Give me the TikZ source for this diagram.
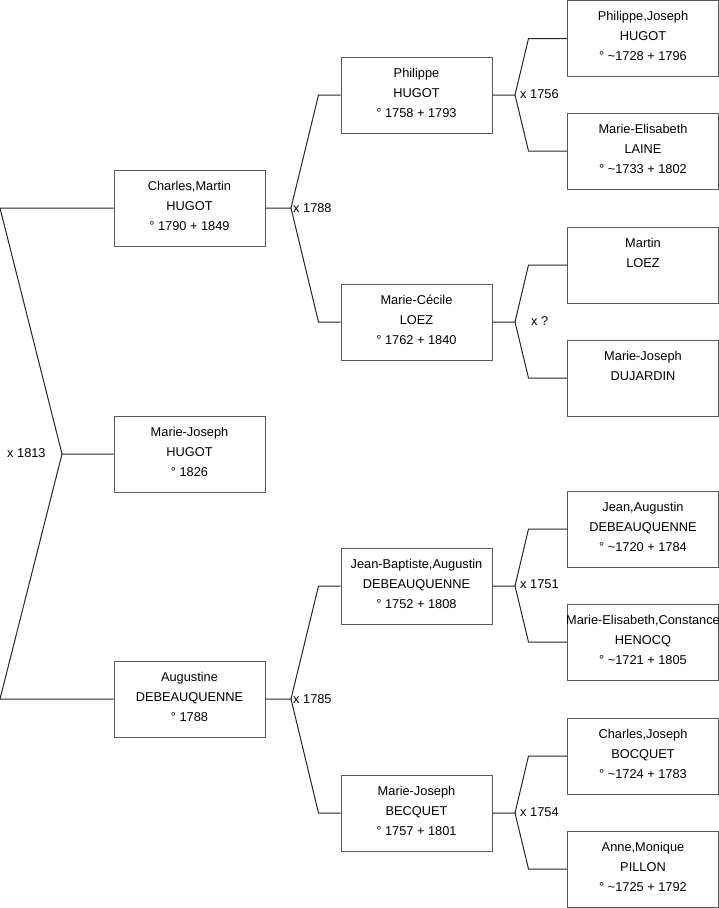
\documentclass[tikz,border=0pt]{standalone}
\usepackage{fontspec}
\setmainfont{Liberation Sans}
\usetikzlibrary{calc}
\tikzset{
  pbox/.style={draw=black!65, line width=1pt, minimum width=151pt, minimum height=76pt, inner sep=0pt, fill=white},
  ptext/.style={anchor=north, inner sep=0pt, yshift=-6.5pt, align=center, font=\fontsize{12.8pt}{20pt}\selectfont},
  conn/.style={draw=black!85, line width=1pt},
  mlabel/.style={inner sep=0pt, font=\fontsize{12.8pt}{15pt}\selectfont}
}
\newcommand{\pbox}[4]{\node[pbox] (#1) at (#2,#3) {}; \node[ptext] (#1t) at (#1.north) {\strut #4};}
\begin{document}
\begin{tikzpicture}[x=1pt,y=-1pt]
\useasboundingbox (0,0) rectangle (719,908);
% level 1
\pbox{c1}{189.5}{208}{Charles,Martin\\HUGOT\\° 1790 + 1849}
\pbox{mj}{189.5}{454}{Marie-Joseph\\HUGOT\\° 1826}
\pbox{a1}{189.5}{699}{Augustine\\DEBEAUQUENNE\\° 1788}
% level 2
\pbox{p2}{416.5}{95}{Philippe\\HUGOT\\° 1758 + 1793}
\pbox{mc}{416.5}{322}{Marie-Cécile\\LOEZ\\° 1762 + 1840}
\pbox{jb}{416.5}{586}{Jean-Baptiste,Augustin\\DEBEAUQUENNE\\° 1752 + 1808}
\pbox{mb}{416.5}{813}{Marie-Joseph\\BECQUET\\° 1757 + 1801}
% level 3
\pbox{pj}{643}{38.5}{Philippe,Joseph\\HUGOT\\° \textasciitilde1728 + 1796}
\pbox{ml}{643}{151}{Marie-Elisabeth\\LAINE\\° \textasciitilde1733 + 1802}
\pbox{mt}{643}{265}{Martin\\LOEZ}
\pbox{md}{643}{378}{Marie-Joseph\\DUJARDIN}
\pbox{ja}{643}{529}{Jean,Augustin\\DEBEAUQUENNE\\° \textasciitilde1720 + 1784}
\pbox{me}{643}{642}{Marie-Elisabeth,Constance\\HENOCQ\\° \textasciitilde1721 + 1805}
\pbox{cj}{643}{756}{Charles,Joseph\\BOCQUET\\° \textasciitilde1724 + 1783}
\pbox{am}{643}{869}{Anne,Monique\\PILLON\\° \textasciitilde1725 + 1792}
% vertices
\coordinate (v0) at (62,454);
\coordinate (v0a) at (0,208);
\coordinate (v0b) at (0,699);
\coordinate (v1) at (291,208);
\coordinate (v2) at (291,699);
\coordinate (v3) at (515,95);
\coordinate (v4) at (515,322);
\coordinate (v5) at (515,586);
\coordinate (v6) at (515,813);
% connectors level 0
\draw[conn] (c1.west) -- (v0a) -- (v0) -- (mj.west);
\draw[conn] (a1.west) -- (v0b) -- (v0);
% level 1 -> 2
\draw[conn] (c1.east) -- (v1) -- ($(p2.west)+(-22,0)$) -- (p2.west);
\draw[conn] (v1) -- ($(mc.west)+(-22,0)$) -- (mc.west);
\draw[conn] (a1.east) -- (v2) -- ($(jb.west)+(-22,0)$) -- (jb.west);
\draw[conn] (v2) -- ($(mb.west)+(-22,0)$) -- (mb.west);
% level 2 -> 3
\draw[conn] (p2.east) -- (v3) -- ($(pj.west)+(-38.5,0)$) -- (pj.west);
\draw[conn] (v3) -- ($(ml.west)+(-38.5,0)$) -- (ml.west);
\draw[conn] (mc.east) -- (v4) -- ($(mt.west)+(-38.5,0)$) -- (mt.west);
\draw[conn] (v4) -- ($(md.west)+(-38.5,0)$) -- (md.west);
\draw[conn] (jb.east) -- (v5) -- ($(ja.west)+(-38.5,0)$) -- (ja.west);
\draw[conn] (v5) -- ($(me.west)+(-38.5,0)$) -- (me.west);
\draw[conn] (mb.east) -- (v6) -- ($(cj.west)+(-38.5,0)$) -- (cj.west);
\draw[conn] (v6) -- ($(am.west)+(-38.5,0)$) -- (am.west);
% marriage labels
\node[mlabel, anchor=west] (l0) at (7,453) {x 1813};
\node[mlabel, anchor=west] (l1) at (293,208) {x 1788};
\node[mlabel, anchor=west] (l2) at (293,699) {x 1785};
\node[mlabel, anchor=west] (l3) at (520,94) {x 1756};
\node[mlabel, anchor=west] (l4) at (531,321) {x ?};
\node[mlabel, anchor=west] (l5) at (520,584) {x 1751};
\node[mlabel, anchor=west] (l6) at (520,812) {x 1754};
\end{tikzpicture}
\end{document}
